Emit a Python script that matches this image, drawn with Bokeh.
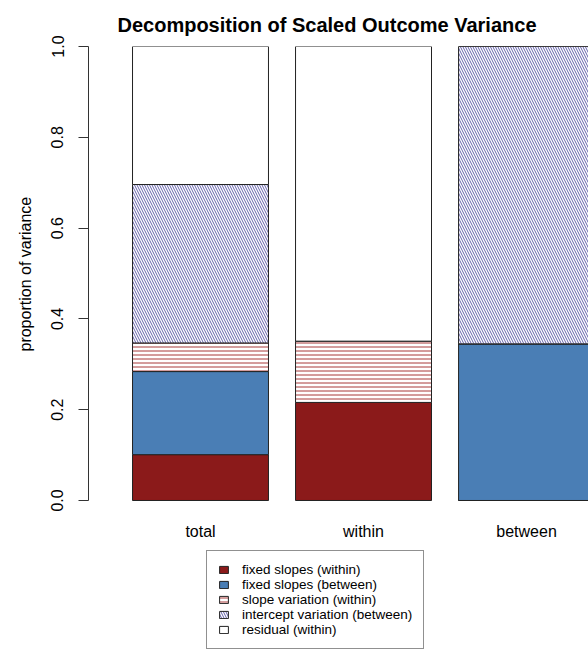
from bokeh.plotting import figure
from bokeh.models import (ColumnDataSource, Range1d, FixedTicker, Legend, LegendItem,
                          LinearAxis, Title)
from bokeh.embed import file_html
from bokeh.resources import INLINE

# ---- data ----
categories = ["total", "within", "between"]
components = ["fixed slopes (within)", "fixed slopes (between)",
              "slope variation (within)", "intercept variation (between)",
              "residual (within)"]
fixed_within = [0.101, 0.216, 0.0]
fixed_between = [0.183, 0.0, 0.345]
slope_var_within = [0.063, 0.135, 0.0]
intercept_var_between = [0.349, 0.0, 0.655]
residual_within = [0.304, 0.649, 0.0]
yticks = [0.0, 0.2, 0.4, 0.6, 0.8, 1.0]
ytick_labels = ["0.0", "0.2", "0.4", "0.6", "0.8", "1.0"]
y_label = "proportion of variance"

FONT = "Liberation Sans"
keys = ["c0", "c1", "c2", "c3", "c4"]
source = ColumnDataSource(dict(
    x=list(range(len(categories))),
    c0=fixed_within, c1=fixed_between, c2=slope_var_within,
    c3=intercept_var_between, c4=residual_within))

p = figure(width=588, height=651, output_backend="svg", toolbar_location=None,
           x_range=Range1d(-0.687, 2.380), y_range=Range1d(-0.3326, 1),
           x_axis_location=None,
           min_border_left=88, min_border_right=0, min_border_top=46,
           min_border_bottom=0, title="Decomposition of Scaled Outcome Variance")
p.outline_line_color = None
p.xgrid.visible = False
p.ygrid.visible = False
p.background_fill_color = "white"

p.title.text_font = FONT
p.title.text_font_size = "20px"
p.title.text_font_style = "bold"
p.title.text_color = "black"
p.title.text_line_height = 0.8
p.title.align = "left"
p.title.offset = 29
p.title.standoff = 22

fills = ["#8B1A1A", "#4A7EB5", "white", "white", "white"]
hatches = [" ", " ", "horizontal_line", "left_diagonal_line", " "]
hatch_cols = ["black", "black", "#A83A3A", "#6461AC", "black"]
hatch_scales = [4, 4, 4, 5, 4]

rs = p.vbar_stack(keys, x="x", width=0.834, source=source,
                  fill_color=fills, hatch_pattern=hatches, hatch_color=hatch_cols,
                  hatch_scale=hatch_scales, hatch_weight=1,
                  line_color="#222222", line_width=1)

# category axis drawn at y = 0 inside the frame
xa = LinearAxis(fixed_location=0)
xa.ticker = FixedTicker(ticks=list(range(len(categories))))
xa.major_label_overrides = {i: c for i, c in enumerate(categories)}
xa.axis_line_color = None
xa.major_tick_line_color = None
xa.minor_tick_line_color = None
xa.major_label_text_font = FONT
xa.major_label_text_font_size = "16px"
xa.major_label_text_color = "black"
xa.major_label_standoff = 17
p.add_layout(xa, "below")

ya = p.yaxis[0]
ya.bounds = (0, 1)
ya.ticker = FixedTicker(ticks=yticks)
ya.major_label_overrides = {t: l for t, l in zip(yticks, ytick_labels)}
ya.major_label_orientation = "vertical"
ya.axis_line_color = "#333333"
ya.major_tick_line_color = "#333333"
ya.major_tick_out = 10
ya.major_tick_in = 0
ya.minor_tick_line_color = None
ya.major_label_text_font = FONT
ya.major_label_text_font_size = "16px"
ya.major_label_text_color = "black"
ya.major_label_standoff = 15

# y-axis title, centred on the 0..1 part of the axis
yt = Title(text=y_label, align="left", offset=300, standoff=29,
           text_font=FONT, text_font_size="16px", text_font_style="normal",
           text_color="black")
p.add_layout(yt, "left")

legend = Legend(items=[LegendItem(label=c, renderers=[r]) for c, r in zip(components, rs)],
                location=(118, 2))
legend.border_line_color = "#222222"
legend.border_line_width = 1
legend.background_fill_color = "white"
legend.background_fill_alpha = 1
legend.label_text_font = FONT
legend.label_text_font_size = "13.5px"
legend.label_text_color = "black"
legend.glyph_width = 11
legend.glyph_height = 9
legend.label_height = 13
legend.spacing = 0
legend.label_standoff = 13
legend.padding = 11
legend.margin = 0
p.add_layout(legend, "center")

open("out.html", "w").write(file_html(p, INLINE))
